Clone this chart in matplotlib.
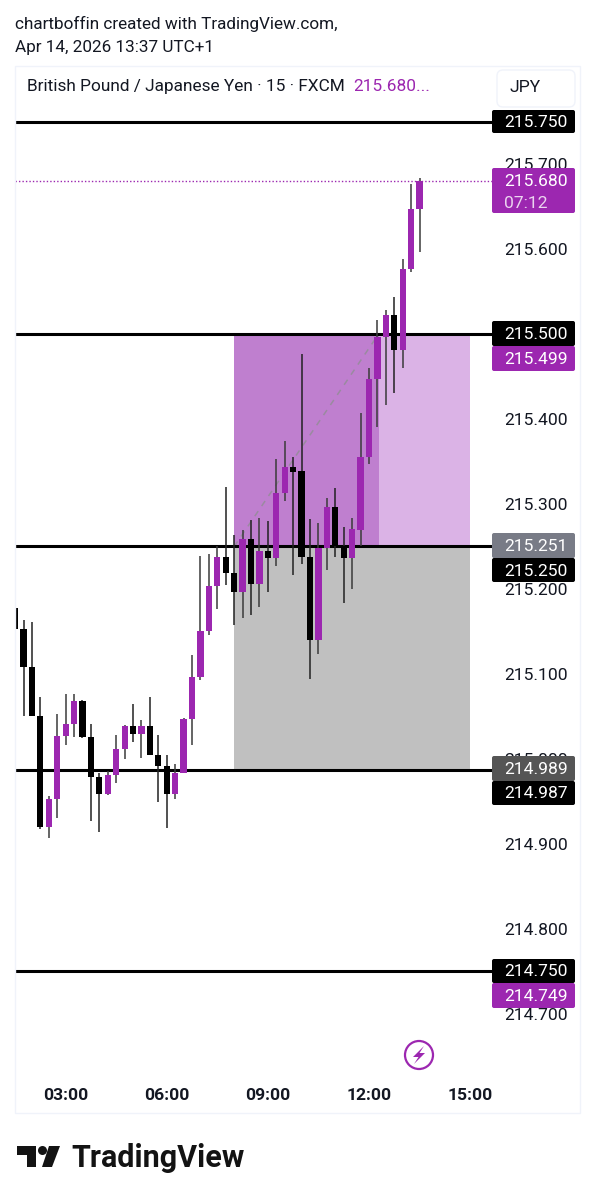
import matplotlib
matplotlib.use("Agg")
import matplotlib.pyplot as plt
from matplotlib.patches import Circle, FancyBboxPatch, Polygon, Rectangle

plt.rcParams['font.family'] = ['Roboto', 'DejaVu Sans']

##############################################################################
# Data: GBP/JPY 15 minute bars, first bar at 02:30
opens = [215.178, 215.153, 215.108, 215.051, 214.920, 214.953, 215.027, 215.041, 215.068, 215.026,
         214.979, 214.959, 214.981, 215.012, 215.039, 215.029, 215.039, 215.005, 214.992, 214.959,
         214.983, 215.047, 215.097, 215.150, 215.203, 215.238, 215.219, 215.196, 215.259, 215.206,
         215.245, 215.237, 215.313, 215.344, 215.339, 215.238, 215.140, 215.248, 215.296, 215.250,
         215.236, 215.269, 215.355, 215.447, 215.496, 215.522, 215.481, 215.577, 215.647]
highs = [215.195, 215.163, 215.161, 215.073, 214.957, 215.053, 215.077, 215.077, 215.069, 215.041,
         214.984, 214.986, 215.028, 215.040, 215.065, 215.046, 215.073, 215.028, 215.005, 214.994,
         215.048, 215.122, 215.239, 215.241, 215.250, 215.320, 215.264, 215.269, 215.281, 215.284,
         215.280, 215.353, 215.374, 215.355, 215.476, 215.282, 215.278, 215.307, 215.319, 215.273,
         215.283, 215.407, 215.460, 215.517, 215.528, 215.544, 215.588, 215.677, 215.683]
lows = [215.115, 215.051, 215.051, 214.918, 214.907, 214.931, 215.016, 215.026, 215.025, 214.927,
        214.914, 214.958, 214.972, 215.000, 215.020, 215.001, 215.005, 214.949, 214.919, 214.953,
        214.983, 215.016, 215.093, 215.146, 215.177, 215.205, 215.158, 215.166, 215.169, 215.179,
        215.197, 215.227, 215.304, 215.217, 215.229, 215.094, 215.123, 215.222, 215.238, 215.184,
        215.200, 215.250, 215.347, 215.390, 215.416, 215.431, 215.460, 215.573, 215.596]
closes = [215.153, 215.108, 215.051, 214.920, 214.953, 215.027, 215.041, 215.068, 215.026, 214.979,
          214.959, 214.981, 215.012, 215.039, 215.029, 215.039, 215.005, 214.992, 214.959, 214.983,
          215.047, 215.097, 215.150, 215.203, 215.238, 215.219, 215.196, 215.259, 215.206, 215.245,
          215.237, 215.313, 215.344, 215.338, 215.238, 215.140, 215.248, 215.296, 215.250, 215.236,
          215.270, 215.355, 215.447, 215.496, 215.522, 215.481, 215.577, 215.647, 215.680]

# 215.500 sits fully under its level tag, so it is left out of the scale
price_ticks = [214.7, 214.8, 214.9, 215.0, 215.1, 215.2, 215.3, 215.4, 215.6, 215.7]
time_labels = ['03:00', '06:00', '09:00', '12:00', '15:00']
time_bars = [6, 18, 30, 42, 54]

levels = [215.750, 215.500, 215.250, 214.987, 214.750]
last_price = 215.680
entry = 215.250
target = 215.500
stop = 214.987
position_start = 26
position_now = 43.15
position_end = 54

PURPLE = '#9C27B0'

##############################################################################
fig = plt.figure(figsize=(5.95, 12.0), dpi=100, facecolor='white')


def box_axes(left, top, right, bottom):
    """Axes placed by pixel edges, counted from the top left corner."""
    return fig.add_axes([left / 595, 1 - bottom / 1200, (right - left) / 595, (bottom - top) / 1200])


# Price pane
ax = box_axes(15, 66, 492, 1075)
ax.set_xlim(-0.01, 56.6)
ax.set_ylim(214.6282, 215.8153)
for side in ax.spines.values():
    side.set_visible(False)

# Long position: profit, loss and the part already run
ax.add_patch(Rectangle((position_start, entry), position_end - position_start, target - entry,
                       facecolor='#DBB3E6', edgecolor='none', zorder=1))
ax.add_patch(Rectangle((position_start, entry), position_now - position_start, target - entry,
                       facecolor='#BF7FCF', edgecolor='none', zorder=1.1))
ax.add_patch(Rectangle((position_start, stop), position_end - position_start, entry - stop,
                       facecolor='#C0C0C0', edgecolor='none', zorder=1))
ax.plot([position_start, position_now], [entry, target], color='#9A8AA0', lw=1.1,
        ls=(0, (4, 4)), zorder=1.2)

# Horizontal levels and last price
ax.hlines(levels, -0.01, 56.6, color='black', lw=2.2, zorder=1.5)
ax.hlines(last_price, -0.01, 56.6, color=PURPLE, lw=1.0, ls=(0, (1, 1.5)), zorder=1.5)

# Candles
for i in range(len(opens)):
    color = PURPLE if closes[i] >= opens[i] else 'black'
    ax.vlines(i, lows[i], highs[i], color='#222222' if color == 'black' else '#3a3a3a', lw=1.1, zorder=2)
    ax.bar(i, abs(closes[i] - opens[i]), bottom=min(opens[i], closes[i]), width=0.74,
           color=color, edgecolor='none', zorder=3)

# Price scale on the right, time scale below
ax.yaxis.tick_right()
ax.set_yticks(price_ticks)
ax.set_yticklabels(['%.3f' % p for p in price_ticks])
ax.tick_params(axis='y', length=0, pad=8.6, labelsize=12.6, labelcolor='#131722')
ax.set_xticks(time_bars)
ax.set_xticklabels(time_labels, fontweight='semibold')
ax.tick_params(axis='x', length=0, pad=9.5, labelsize=12.6, labelcolor='#131722')

##############################################################################
# Everything around the pane is placed in pixels on a transparent overlay
top = fig.add_axes([0, 0, 1, 1], zorder=5)
top.set_xlim(0, 595)
top.set_ylim(1200, 0)
top.axis('off')
top.patch.set_alpha(0)

top.add_patch(Rectangle((15, 66), 565, 1047, facecolor='none', edgecolor='#F0F3FA', lw=1))

top.text(15, 24, 'chartboffin created with TradingView.com,', fontsize=12.3, color='#131722', va='center')
top.text(15, 47.5, 'Apr 14, 2026 13:37 UTC+1', fontsize=12.3, color='#131722', va='center')
top.text(27, 86.5, 'British Pound / Japanese Yen · 15 · FXCM', fontsize=12.45, color='#131722', va='center')
top.text(353, 86.5, '215.680...', fontsize=12.45, color=PURPLE, va='center')

top.add_patch(FancyBboxPatch((500, 73), 72, 31, boxstyle='round,pad=3,rounding_size=6',
                             facecolor='white', edgecolor='#F0F3FA', lw=1))
top.text(510, 87.5, 'JPY', fontsize=12.6, color='#131722', va='center')


def price_tag(y0, y1, text, color, corner=2):
    top.add_patch(FancyBboxPatch((493, y0 + 1), 81, y1 - y0 - 2,
                                 boxstyle='round,pad=1,rounding_size=%d' % corner,
                                 facecolor=color, edgecolor='none', zorder=3))
    top.text(504, (y0 + y1) / 2 + 1, text, fontsize=12.6, color='white', va='center', zorder=4)


price_tag(110, 133, '215.750', 'black')
price_tag(168, 213, '', PURPLE)
top.text(504, 182, '215.680', fontsize=12.6, color='white', va='center', zorder=4)
top.text(504, 203, '07:12', fontsize=12.6, color='#EBD4EF', va='center', zorder=4)
price_tag(346, 371, '215.499', PURPLE)
price_tag(321, 346, '215.500', 'black')
price_tag(533, 558, '215.251', '#787B86')
price_tag(558, 582, '215.250', 'black')
price_tag(756, 781, '214.989', '#555555')
price_tag(781, 805, '214.987', 'black')
price_tag(983, 1008, '214.749', PURPLE)
price_tag(959, 983, '214.750', 'black')

# Lightning badge
top.add_patch(Circle((419, 1055), 14, facecolor='white', edgecolor=PURPLE, lw=1.6))
top.add_patch(Polygon([(424, 1046), (413, 1057), (418.5, 1057), (414, 1064), (425, 1053), (419.5, 1053)],
                      closed=True, facecolor=PURPLE, edgecolor='none'))

# TradingView logo
logo = '#131313'
top.add_patch(Polygon([(17, 1146), (36, 1146), (36, 1167), (26.5, 1167), (26.5, 1155), (17, 1155)],
                      closed=True, facecolor=logo, edgecolor='none'))
top.add_patch(Circle((42.5, 1150.5), 4.5, facecolor=logo, edgecolor='none'))
top.add_patch(Polygon([(49, 1146), (60, 1146), (52, 1167), (42, 1167)],
                      closed=True, facecolor=logo, edgecolor='none'))
top.text(71, 1158, 'TradingView', fontsize=22, fontweight='semibold', color=logo, va='center')

fig.savefig('out.png', dpi=100, facecolor='white')
